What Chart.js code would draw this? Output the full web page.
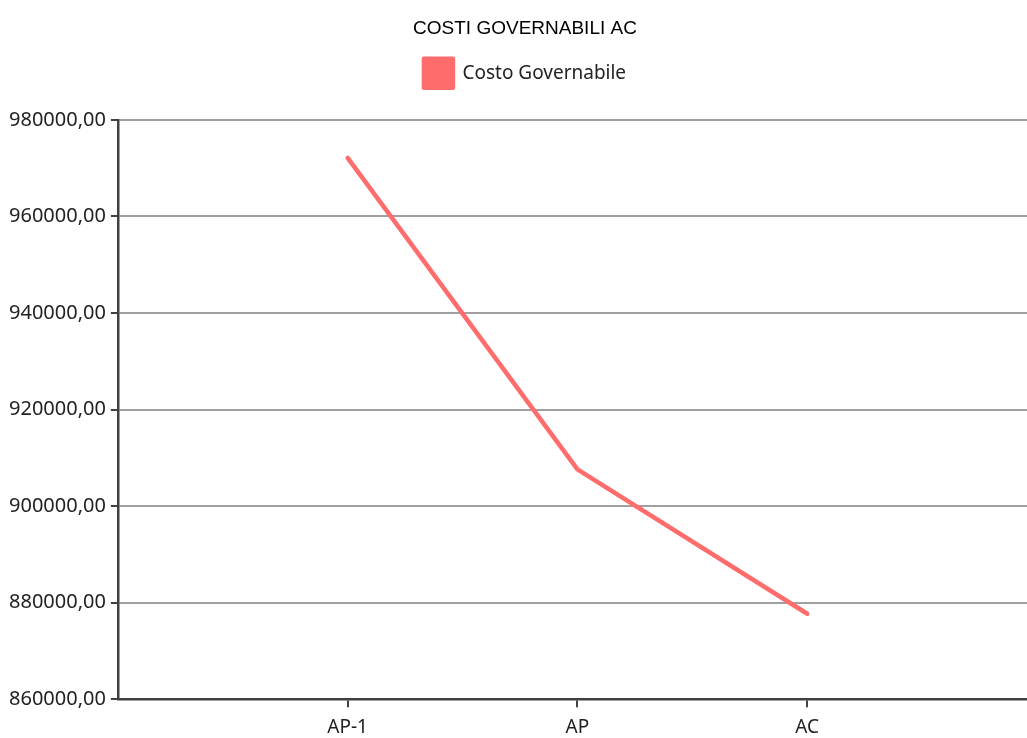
<!DOCTYPE html>
<html>
<head>
<meta charset="utf-8">
<script src="https://cdn.jsdelivr.net/npm/chart.js@4"></script>
<style>
  html, body { margin: 0; padding: 0; background: #fff; overflow: hidden; }
  #wrap { width: 1046px; height: 748px; }
</style>
</head>
<body>
<div id="wrap"><canvas id="costChart"></canvas></div>
<script>
// ========================
// DATA
// ========================
const categories = ['', 'AP-1', 'AP', 'AC', ''];
const costoGovernabile = [null, 972100, 907600, 877700, null];
const yTicks = [860000, 880000, 900000, 920000, 940000, 960000, 980000];

const LINE_RED = 'rgb(255, 108, 108)';
const AXIS_DARK = '#404040';

function formatIt(v) {
  return v.toFixed(2).replace('.', ',');
}

// extra space under the legend
const legendMargin = {
  id: 'legendMargin',
  beforeInit(chart) {
    const fit = chart.legend.fit;
    chart.legend.fit = function () {
      fit.bind(chart.legend)();
      this.height += 22;
    };
  }
};

// ========================
// CHART
// ========================
const ctx = document.getElementById('costChart').getContext('2d');
new Chart(ctx, {
  type: 'line',
  data: {
    labels: categories,
    datasets: [{
      label: 'Costo Governabile',
      data: costoGovernabile,
      borderColor: LINE_RED,
      backgroundColor: LINE_RED,
      borderWidth: 4.5,
      pointRadius: 0,
      tension: 0,
      borderCapStyle: 'round',
      borderJoinStyle: 'round'
    }]
  },
  options: {
    responsive: true,
    maintainAspectRatio: false,
    animation: false,
    layout: { padding: { left: 4, right: 0, top: 2, bottom: 0 } },
    plugins: {
      title: {
        display: true,
        text: 'COSTI GOVERNABILI AC',
        color: '#000',
        font: { family: 'Liberation Sans, Arial', size: 19, weight: 'normal' },
        padding: { top: 15, bottom: 9 }
      },
      legend: {
        display: true,
        labels: {
          boxWidth: 29,
          boxHeight: 29,
          color: '#222',
          font: { family: 'Noto Sans', size: 19 },
          padding: 10
        }
      },
      tooltip: { enabled: false }
    },
    scales: {
      x: {
        offset: false,
        border: { color: AXIS_DARK, width: 2.5 },
        grid: {
          drawOnChartArea: false,
          tickLength: 8,
          color: (c) => categories[c.index] ? AXIS_DARK : 'transparent',
          lineWidth: 2
        },
        ticks: {
          color: '#222',
          font: { family: 'Noto Sans', size: 19 },
          padding: 9,
          maxRotation: 0,
          autoSkip: false
        }
      },
      y: {
        min: 860000,
        max: 980000,
        afterBuildTicks: (axis) => { axis.ticks = yTicks.map(v => ({ value: v })); },
        border: { color: AXIS_DARK, width: 2.5 },
        grid: {
          color: '#a0a0a0',
          lineWidth: 2,
          tickLength: 7,
          tickColor: AXIS_DARK
        },
        ticks: {
          color: '#222',
          font: { family: 'Noto Sans', size: 20 },
          padding: 5,
          callback: (v) => formatIt(v)
        }
      }
    }
  },
  plugins: [legendMargin]
});
</script>
</body>
</html>
